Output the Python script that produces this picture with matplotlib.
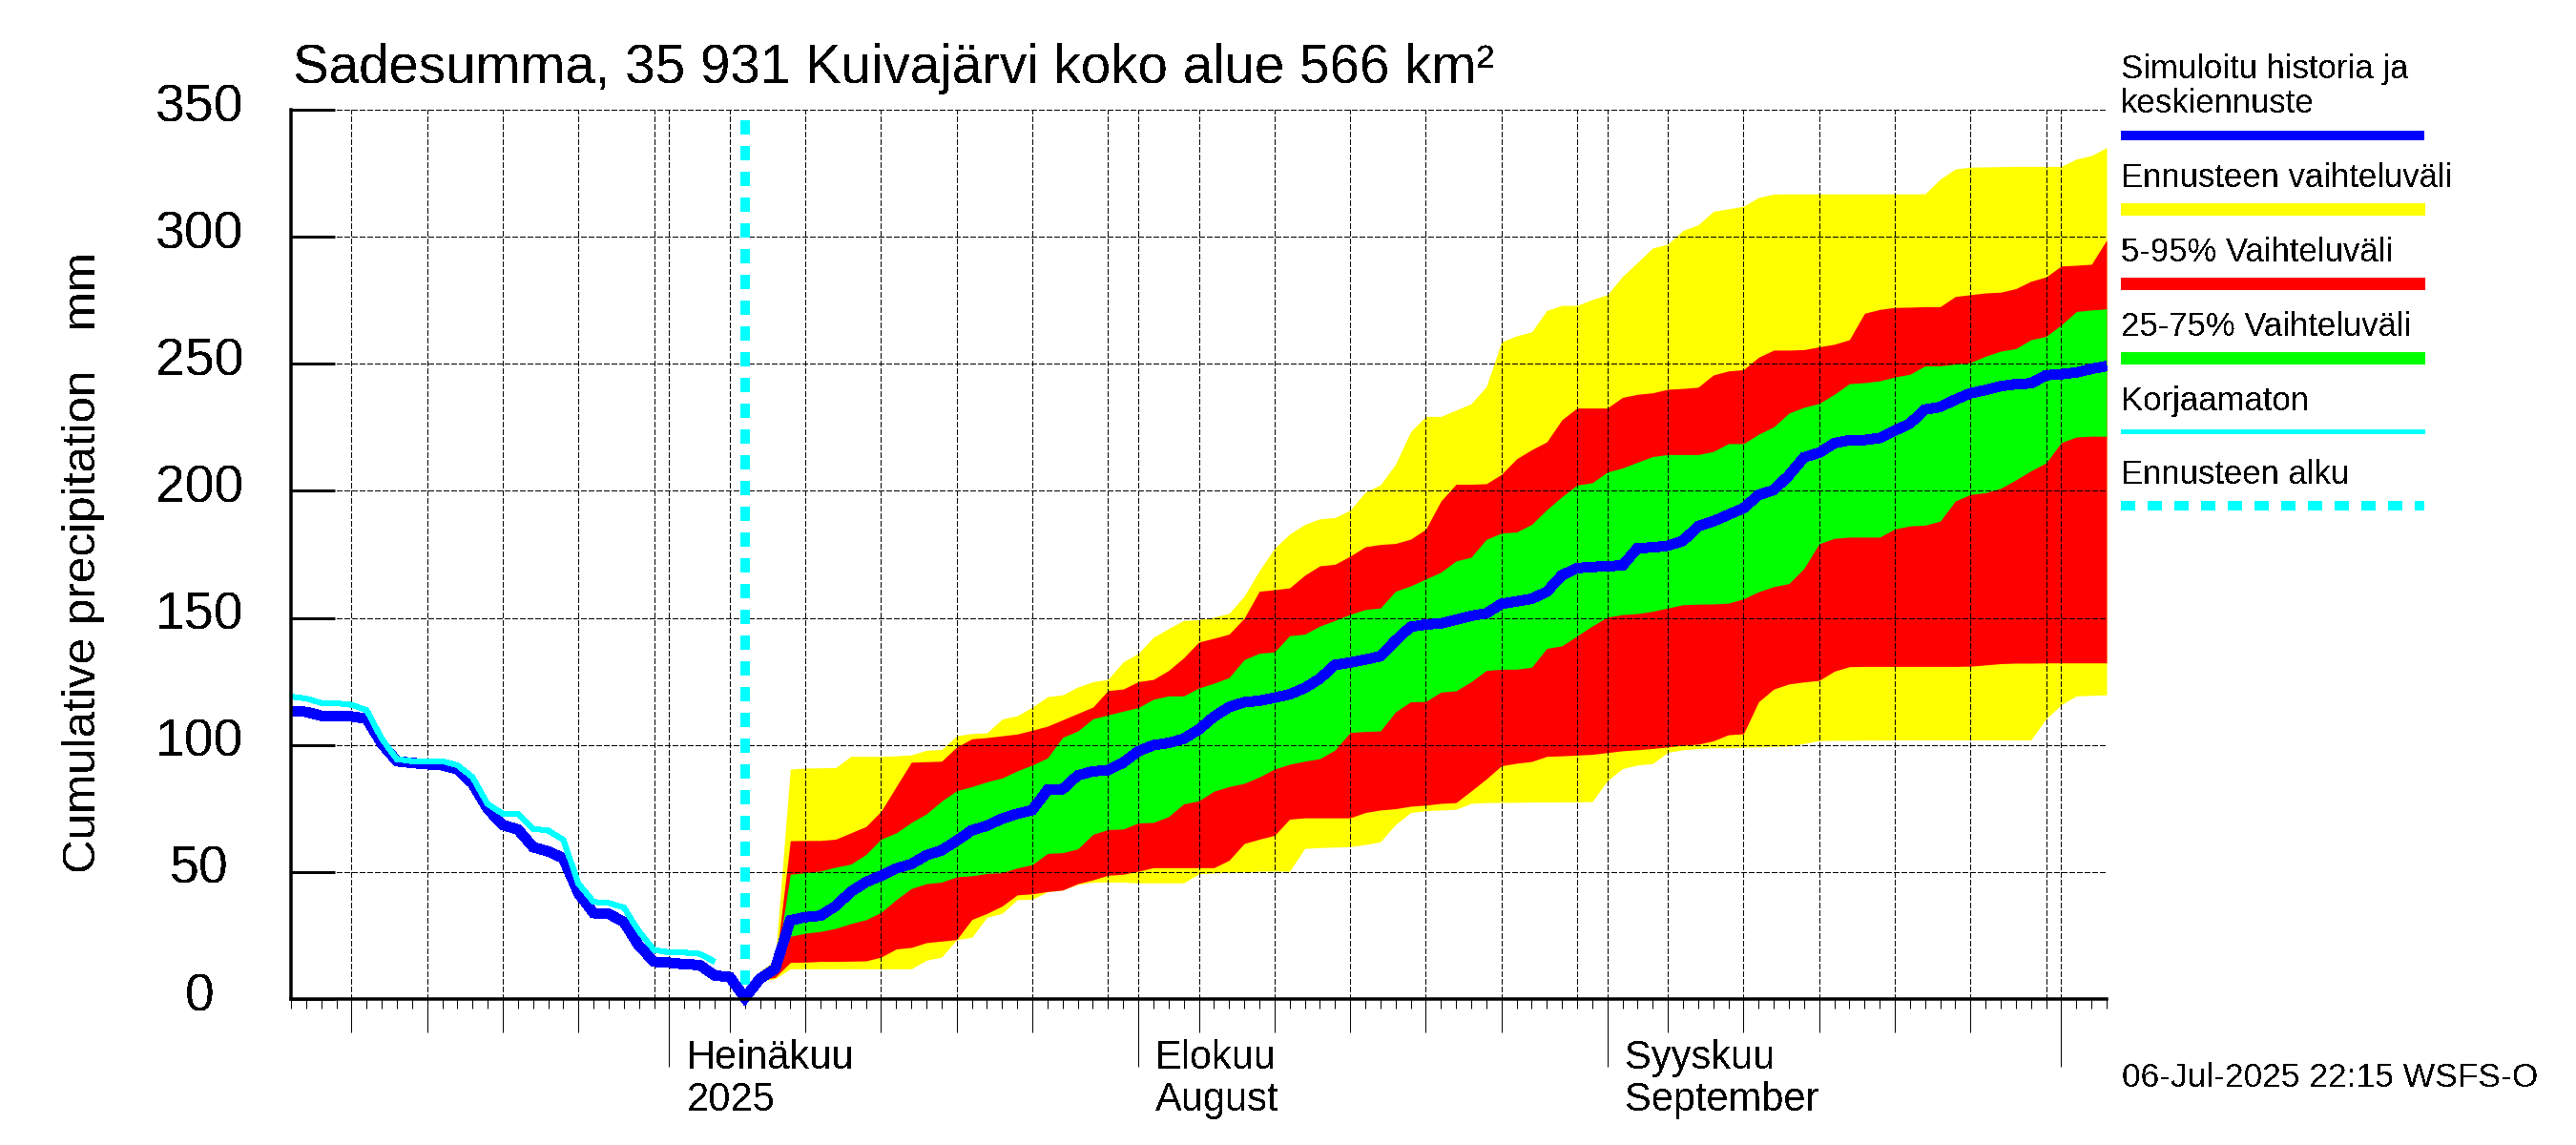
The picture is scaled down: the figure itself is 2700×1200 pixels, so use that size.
import matplotlib
matplotlib.use("Agg")
from matplotlib import pyplot as plt

plt.rcParams['font.family'] = ['Liberation Sans', 'DejaVu Sans']
plt.rcParams['text.antialiased'] = False

# days counted from 1 July 2025
raw_days = list(range(-25, 4))
fc_days = list(range(5, 96))
all_days = list(range(-25, 96))

raw_hist = [119, 118.3, 116.5, 116.4, 115.8, 113.7, 102.4, 94.4, 93.6, 93.6,
            93.6, 92, 87.3, 76.7, 72.9, 72.9, 67, 66.3, 62.7, 45.4,
            38.2, 37.8, 36, 26.6, 19.3, 18.4, 18.3, 17.8, 14.7]

mean_hist = [113.4, 113, 111.5, 111.4, 111.2, 110.3, 100.5, 93.6, 92.9, 92.4,
             92, 90.5, 84.8, 74.8, 68.5, 66.7, 59.8, 58.1, 55.4, 41.6,
             33.8, 33.5, 30.3, 20.9, 14.7, 14.3, 13.7, 13.4, 9.3, 8.6, 0.5]

mean_fc = [8, 12, 31, 32.2, 32.8, 36.6, 42.2, 46, 48.5, 51.4,
           53.1, 56.6, 58.5, 62.3, 66.4, 68.2, 71, 72.9, 74.4, 82.3,
           82.6, 88, 89.6, 90.1, 93, 97.5, 99.9, 100.8, 102.4, 106.1,
           111.1, 114.9, 116.8, 117.4, 118.6, 119.9, 122.4, 126.1, 131.5, 132.4,
           133.6, 134.9, 141.1, 146.5, 147.4, 147.8, 149.3, 150.8, 151.8, 155.5,
           156.5, 157.5, 160.3, 166.8, 169.6, 170, 170.4, 170.6, 177.5, 177.7,
           178.4, 180.3, 186.1, 188, 190.6, 193.2, 198.4, 200.3, 206.1, 213.2,
           215, 218.7, 220, 220, 220.8, 223.7, 226.5, 232, 233, 235.9,
           238.4, 239.7, 241.2, 242, 242.3, 245.5, 245.9, 246.6, 248, 249.1]

yellow_hi = [0.5, 11, 15.3, 90.5, 90.9, 91, 91.1, 95.5, 95.5, 95.5,
             95.7, 96.1, 97.9, 98.2, 103.6, 104.5, 104.8, 110.2, 111.5, 114.9,
             119, 119.7, 122.8, 124.9, 125.8, 132.7, 136, 142.4, 145.8, 149,
             149.3, 150.3, 151.8, 158.6, 168.6, 177.4, 183, 186.8, 189, 189.5,
             192.4, 199.5, 202.4, 210.5, 223.3, 229.3, 229.3, 231.8, 234.3, 241,
             258.6, 261, 262.6, 271, 273, 273, 275.3, 277.2, 284.4, 290,
             295.6, 297.1, 302.5, 304.7, 310, 311, 312, 315.5, 316.8, 316.9,
             316.9, 316.9, 316.9, 316.9, 316.9, 316.9, 316.9, 316.9, 316.9, 322.7,
             326.7, 327.4, 327.5, 327.6, 327.7, 327.7, 327.7, 327.7, 330.6, 332, 335.1]

red_hi = [0.5, 9.5, 12, 62.3, 62.4, 62.4, 62.9, 65.4, 67.9, 73.9,
          83.6, 93.2, 93.4, 93.6, 99.2, 102.4, 102.9, 103.6, 104.3, 105.8,
          107.4, 109.9, 112.4, 114.9, 121.4, 122, 124.9, 125.8, 129.3, 134.3,
          140.5, 142, 143.6, 149.9, 160.5, 161.1, 161.8, 166.8, 170.5, 171.1,
          174.3, 178, 178.9, 179.3, 181, 184.9, 196, 202.6, 202.6, 202.8,
          206.5, 212.6, 216.2, 219.3, 228, 232.6, 232.6, 232.6, 236.8, 238,
          238.6, 240, 240.3, 240.8, 245.6, 247.2, 247.7, 252.6, 255.4, 255.4,
          255.6, 256.7, 257.7, 259.5, 269.9, 271.4, 272.2, 272.3, 272.5, 272.5,
          276.5, 277.2, 277.9, 278.2, 279.6, 282.5, 284.2, 288.5, 288.8, 289.2, 298.7]

green_hi = [0.5, 8.5, 11, 49.1, 49.7, 50.4, 51.9, 53.1, 56.9, 62.9,
            65.4, 69.5, 72.9, 77.9, 82, 83.6, 85.5, 87, 89.8, 92.1,
            94.9, 103, 105.5, 110.3, 111.8, 113.3, 114.7, 118, 119.3, 119.3,
            122.4, 124.3, 126.5, 133.6, 136.1, 136.6, 143, 143.6, 146.8, 149,
            151.4, 153.3, 153.9, 160.5, 162.6, 165.3, 168, 172.4, 173.9, 180.9,
            183.4, 183.8, 186.8, 192.6, 197.7, 202.3, 203.2, 207.4, 209, 211.3,
            213.5, 214.3, 214.3, 214.3, 215.5, 218.6, 218.6, 222.3, 225.2, 230.6,
            232.9, 234.4, 238, 242.2, 242.6, 243.3, 244.8, 245.9, 249.2, 249.2,
            249.9, 250.5, 253, 255, 256, 259.5, 260.8, 265.3, 270.6, 271.2, 271.6]

green_lo = [0.5, 8, 9.5, 24.7, 25.9, 26.6, 27.8, 29.7, 31.2, 34.1,
            39.1, 43.5, 45.4, 46, 48.1, 48.5, 49.4, 49.7, 51.6, 52.9,
            57.3, 57.6, 59.1, 64.8, 66.7, 66.9, 69.3, 69.5, 71.8, 76.8,
            78, 81.8, 83.6, 84.9, 87.4, 90.5, 92.4, 93.6, 94.6, 98,
            104.9, 105.3, 105.5, 113, 117, 117.1, 120.8, 121.3, 124.9, 129.3,
            129.8, 129.8, 130.6, 138, 139, 142.9, 146.8, 150.3, 151.3, 151.7,
            152.6, 153.9, 155.2, 155.4, 155.5, 155.8, 157.5, 160.3, 162.3, 163.5,
            169.5, 179.2, 181.3, 181.8, 181.8, 181.8, 185, 186.2, 186.5, 188.1,
            196, 198.6, 199.3, 201, 204.3, 207.9, 211, 219, 221.2, 221.5, 221.5]

red_lo = [0.5, 7.5, 8.5, 14.4, 14.5, 14.8, 14.8, 14.9, 15, 16.5,
          19.7, 20.3, 22.2, 22.8, 23.4, 31.3, 33.7, 36.6, 41, 41.4,
          42.3, 42.9, 45.4, 46.9, 48.7, 49.1, 50.3, 51.7, 51.7, 51.7,
          51.7, 51.7, 54.6, 61.2, 62.9, 64.4, 70.8, 71.3, 71.3, 71.3,
          71.3, 73.4, 74.4, 74.9, 75.9, 76.3, 77, 77.3, 81.9, 86.6,
          91.8, 92.8, 93.5, 95.5, 95.7, 96, 96.3, 97, 97.7, 98.1,
          98.6, 99.2, 99.9, 100.3, 101.6, 104, 104.4, 117, 122, 124,
          124.8, 125.4, 129, 130.8, 130.9, 130.9, 130.9, 130.9, 130.9, 130.9,
          130.9, 131, 131.5, 132, 132.2, 132.2, 132.3, 132.3, 132.3, 132.3, 132.3]

yellow_lo = [0.5, 7, 8, 11.9, 11.9, 11.9, 11.9, 11.9, 11.9, 11.9,
             11.9, 11.9, 15.3, 16.5, 23.4, 24.3, 32.2, 33.7, 39.1, 39.3,
             42.2, 42.9, 45.1, 46, 46, 46, 45.7, 45.7, 45.7, 45.7,
             49.3, 49.6, 49.9, 50, 50.3, 50.3, 50.3, 59.3, 59.6, 59.8,
             60, 60.8, 61.9, 68.7, 73.4, 74.1, 74.4, 74.7, 77, 77.3,
             77.4, 77.4, 77.5, 77.5, 77.6, 77.6, 77.7, 85.9, 90.7, 92.1,
             92.7, 97.1, 98.1, 98.6, 98.9, 98.9, 99.1, 99.2, 99.4, 99.6,
             100.6, 101.7, 101.8, 101.8, 101.9, 101.9, 102, 102, 102, 102,
             102, 102, 102, 102, 102, 102, 110.3, 115.8, 119.3, 119.5, 119.7]

y_ticks = [0, 50, 100, 150, 200, 250, 300, 350]
grid_days = [-21, -16, -11, -6, -1, 0, 4, 9, 14, 19, 24, 29, 31, 35, 40, 45, 50, 55, 60,
             62, 66, 71, 76, 81, 86, 91, 92, 95]
five_days = [-21, -16, -11, -6, 4, 9, 14, 19, 24, 35, 40, 45, 50, 55, 66, 71, 76, 81, 86]
month_days = [0, 31, 62, 92]
month_labels = [('Heinäkuu', '2025', 0), ('Elokuu', 'August', 31), ('Syyskuu', 'September', 62)]
forecast_start = 5

legend_items = ['Ennusteen vaihteluväli', '5-95% Vaihteluväli', '25-75% Vaihteluväli', 'Korjaamaton', 'Ennusteen alku']

W, H = 2700, 1200
fig = plt.figure(figsize=(27, 12), dpi=100)
ax = fig.add_axes([305 / W, 1 - 1047 / H, (2208 - 305) / W, (1047 - 115) / H])
ax.set_xlim(-25, 95)
ax.set_ylim(0, 350)


def px(n):
    # pixels to points at this dpi
    return n * 0.72


ax.fill_between(fc_days, yellow_lo, yellow_hi, color='#ffff00', lw=0, zorder=1, antialiased=False)
ax.fill_between(fc_days, red_lo, red_hi, color='#ff0000', lw=0, zorder=2, antialiased=False)
ax.fill_between(fc_days, green_lo, green_hi, color='#00ff00', lw=0, zorder=3, antialiased=False)

grid_style = dict(color='black', lw=px(1.3), linestyle=(0, (4.6, 2)), antialiased=False, zorder=4)
for d in grid_days:
    ax.axvline(d, **grid_style)
for v in y_ticks[1:]:
    ax.axhline(v, **grid_style)

ax.plot([forecast_start, forecast_start], [346, 0], color='#00ffff', lw=px(10),
        linestyle=(0, (1.5, 1.3)), dash_capstyle='butt', antialiased=False, zorder=5)
ax.plot(all_days, mean_hist + mean_fc, color='#0000ff', lw=px(10), solid_joinstyle='miter',
        solid_capstyle='butt', clip_on=False, antialiased=False, zorder=6)
ax.plot(raw_days, raw_hist, color='#00ffff', lw=px(5), solid_joinstyle='miter',
        solid_capstyle='butt', antialiased=False, zorder=7)

for side in ['top', 'right']:
    ax.spines[side].set_visible(False)
for side in ['left', 'bottom']:
    ax.spines[side].set_linewidth(px(3.5))
    ax.spines[side].set_zorder(8)

ax.set_yticks(y_ticks)
ax.set_yticklabels([])
ax.tick_params(axis='y', direction='in', length=px(46), width=px(3), zorder=8)
ax.set_xticks(month_days)
ax.set_xticklabels([])
ax.set_xticks(all_days, minor=True)
ax.tick_params(axis='x', which='major', direction='out', length=px(71), width=px(1))
ax.tick_params(axis='x', which='minor', direction='out', length=px(10), width=px(1))

sec = ax.secondary_xaxis('bottom')
sec.set_xticks(five_days)
sec.set_xticklabels([])
sec.tick_params(axis='x', direction='out', length=px(35), width=px(1))
sec.spines['bottom'].set_visible(False)

for v in y_ticks:
    ax.annotate(str(v), (0, v), xycoords=ax.get_yaxis_transform(), xytext=(px(209 - 305), px(-12)),
                textcoords='offset points', ha='center', va='baseline', fontsize=40)

for top, bottom, d in month_labels:
    ax.annotate(top, (d, 0), xycoords=ax.get_xaxis_transform(), xytext=(px(18), px(1047 - 1120)),
                textcoords='offset points', ha='left', va='baseline', fontsize=30)
    ax.annotate(bottom, (d, 0), xycoords=ax.get_xaxis_transform(), xytext=(px(18), px(1047 - 1164)),
                textcoords='offset points', ha='left', va='baseline', fontsize=30)


def label(x, y, s, size, **kw):
    # x, y are picture pixels, y down
    fig.text(x / W, 1 - y / H, s, fontsize=size, ha='left', va='baseline', **kw)


label(307, 87, 'Sadesumma, 35 931 Kuivajärvi koko alue 566 km²', 40.7)
label(2224, 1139, '06-Jul-2025 22:15 WSFS-O', 25.5)
fig.text(88 / W, 1 - 590 / H, 'Cumulative precipitation   mm', fontsize=35.6, rotation=90,
         ha='center', va='center')

label(2223, 82, 'Simuloitu historia ja', 25)
label(2223, 118, 'keskiennuste', 25)
for s, y in zip(legend_items, [196, 274, 352, 430, 507]):
    label(2223, y, s, 25)


def legend_line(y, color, width, **kw):
    fig.add_artist(plt.Line2D([2223 / W, 2541 / W], [1 - y / H, 1 - y / H], color=color,
                              lw=px(width), solid_capstyle='butt', antialiased=False, **kw))


legend_line(141.5, '#0000ff', 10)
legend_line(219.5, '#ffff00', 13)
legend_line(297, '#ff0000', 13)
legend_line(375, '#00ff00', 13)
legend_line(452, '#00ffff', 5)
legend_line(530, '#00ffff', 10, linestyle=(0, (1.5, 1.34)), dash_capstyle='butt')

fig.savefig('out.png', dpi=100)
